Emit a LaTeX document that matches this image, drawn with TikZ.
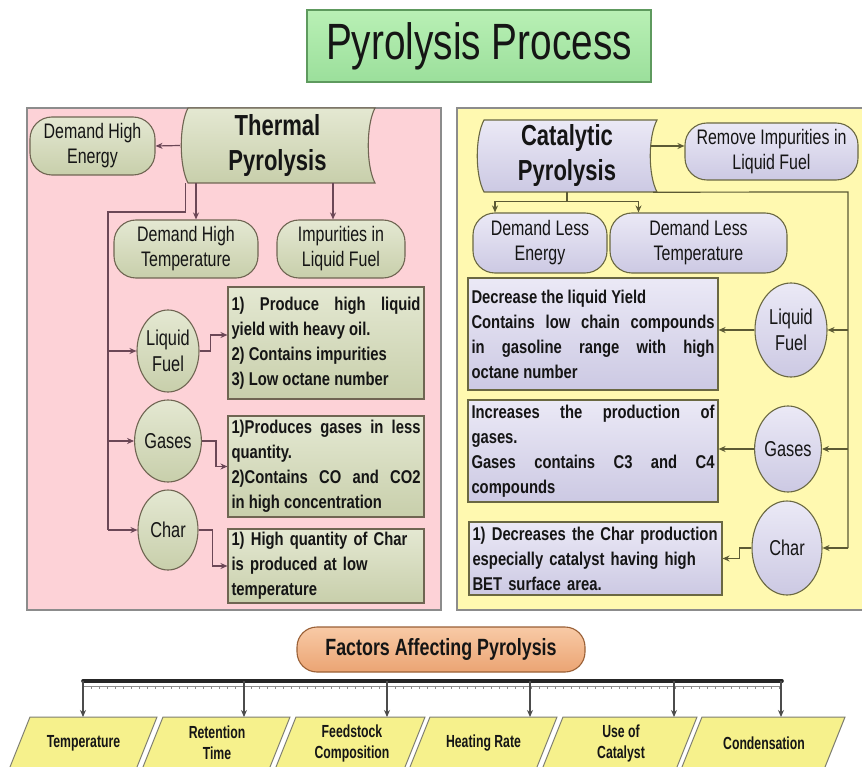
\documentclass[tikz,border=0pt]{standalone}
\usepackage{fontspec}
\usetikzlibrary{arrows.meta,calc,shapes.geometric}
\newfontfamily\nf[FakeStretch=0.76]{Liberation Sans}
\newfontfamily\nfb[FakeStretch=0.8]{Liberation Sans}
\newfontfamily\nfn[FakeStretch=0.7]{Liberation Sans}
\definecolor{gtop}{HTML}{E4E8D2}
\definecolor{gbot}{HTML}{C8CFAB}
\definecolor{gbord}{HTML}{6F6552}
\definecolor{ltop}{HTML}{EBE9F6}
\definecolor{lbot}{HTML}{CCC9E3}
\definecolor{lbord}{HTML}{6A6842}
\definecolor{lconn}{HTML}{6B4756}
\definecolor{rconn}{HTML}{5C5A34}
\definecolor{pinkbg}{HTML}{FDD2D7}
\definecolor{yelbg}{HTML}{FFF9B0}
\definecolor{panbord}{HTML}{8C8C8C}
\definecolor{txt}{HTML}{151515}
\definecolor{ttop}{HTML}{B9F0B5}
\definecolor{tbot}{HTML}{9BDF9B}
\definecolor{tbord}{HTML}{5E9A5E}
\definecolor{otop}{HTML}{F8CAA6}
\definecolor{obot}{HTML}{EBA473}
\definecolor{obord}{HTML}{9A6036}
\definecolor{pyel}{HTML}{F6F18C}
\definecolor{pbord}{HTML}{7E7E70}
\begin{document}
\hyphenpenalty=10000
\exhyphenpenalty=10000
\begin{tikzpicture}[x=1pt,y=-1pt,
  txtbase/.style={text=txt, align=center, inner sep=0},
  gfill/.style={draw=gbord, line width=1.1, top color=gtop, bottom color=gbot},
  lfill/.style={draw=lbord, line width=1.1, top color=ltop, bottom color=lbot},
  gpill/.style={gfill, txtbase, rounded corners=22, font=\nf\fontsize{21}{25}\selectfont},
  lpill/.style={lfill, txtbase, rounded corners=22, font=\nf\fontsize{21}{25}\selectfont},
  gell/.style={gfill, txtbase, ellipse, font=\nf\fontsize{21.5}{26}\selectfont},
  lell/.style={lfill, txtbase, ellipse, font=\nf\fontsize{21.5}{26}\selectfont},
  bodytxt/.style={text=txt, font=\nfb\bfseries\fontsize{18.5}{25}\selectfont, inner xsep=3.5, inner ysep=2},
  gbox/.style={gfill, bodytxt},
  lbox/.style={lfill, bodytxt},
  bigtxt/.style={txtbase, font=\nf\bfseries\fontsize{29}{35}\selectfont},
  lc/.style={draw=lconn, line width=1.2, -{Stealth[length=7,width=6]}},
  lcl/.style={draw=lconn, line width=1.2},
  rc/.style={draw=rconn, line width=1.2, -{Stealth[length=7,width=6]}},
  rcl/.style={draw=rconn, line width=1.2},
  bc/.style={draw=black!70, line width=1.1, -{Stealth[length=7,width=6]}},
  para/.style={draw=pbord, line width=1, fill=pyel},
  ptxt/.style={txtbase, font=\nfn\bfseries\fontsize{17.5}{21}\selectfont}
]
\clip (0,0) rectangle (862,767);
\fill[white] (0,0) rectangle (862,767);

% title
\node[draw=tbord, line width=1.1, top color=ttop, bottom color=tbot, txtbase,
      minimum width=344, minimum height=72, font=\nf\fontsize{51}{55}\selectfont] (T) at (479,46) {Pyrolysis Process};

% panels
\draw[draw=panbord, line width=1.4, fill=pinkbg] (27,108) rectangle (441,610);
\draw[draw=panbord, line width=1.4, fill=yelbg] (457,108) rectangle (875,610);

% ---------- left: thermal ----------
\draw[gfill] (188,108) -- (375,108) .. controls (366,125) and (366,166) .. (375,183)
  -- (188,183) .. controls (179,166) and (179,125) .. (188,108) -- cycle;
\node[bigtxt, minimum width=195, minimum height=75] (TP) at (277.5,145.5) {Thermal\\Pyrolysis};

\node[gpill, minimum width=125, minimum height=58] (DHE) at (92.5,146) {Demand High\\Energy};
\node[gpill, minimum width=144, minimum height=58] (DHT) at (186,249) {Demand High\\Temperature};
\node[gpill, minimum width=128, minimum height=58] (IMP) at (341,249) {Impurities in\\Liquid Fuel};

\node[gell, minimum width=62, minimum height=82] (LF) at (168,351) {Liquid\\Fuel};
\node[gell, minimum width=60, minimum height=82] (GA) at (168,441) {Gases};
\node[gell, minimum width=60, minimum height=80] (CH) at (168,530) {Char};

\node[gbox, text width=189, align=justify, minimum height=112] (B1) at (326,343)
  {1) Produce high liquid\linebreak yield with heavy oil.\\2) Contains impurities\\3) Low octane number};
\node[gbox, text width=189, align=justify, minimum height=101] (B2) at (326,466.5)
  {1)Produces gases in less\linebreak quantity.\\2)Contains CO and CO2\linebreak in high concentration};
\node[gbox, text width=189, align=left, minimum height=74] (B3) at (326,566)
  {1) High quantity of Char\\is produced at low\\temperature};

\draw[lc] (TP.west) -- (DHE.east);
\coordinate (t1) at ($(DHT.north)+(10,0)$);
\coordinate (t2) at ($(IMP.north)+(-8,0)$);
\draw[lc] (t1 |- TP.south) -- (t1);
\draw[lc] (t2 |- TP.south) -- (t2);
\coordinate (tk0) at ($(TP.south west)+(6,0)$);
\coordinate (tk) at (108,212);
\draw[lcl] (tk0) |- (tk) -- (tk |- CH.west);
\draw[lc] (tk |- LF.west) -- (LF.west);
\draw[lc] (tk |- GA.west) -- (GA.west);
\draw[lc] (tk |- CH.west) -- (CH.west);
\draw[lc] (LF.east) -- ++(11,0) |- ($(B1.west)+(0,-8)$);
\draw[lc] (GA.east) -- ++(14,0) |- (B2.west);
\draw[lc] (CH.east) -- ++(14,0) |- (B3.west);

% ---------- right: catalytic ----------
\draw[lfill] (484,120) -- (657,120) .. controls (648,137) and (648,175) .. (657,192)
  -- (484,192) .. controls (475,175) and (475,137) .. (484,120) -- cycle;
\node[bigtxt, minimum width=180, minimum height=72] (CP) at (567,156) {Catalytic\\Pyrolysis};

\node[lpill, minimum width=173, minimum height=57] (RI) at (771.5,151.5) {Remove Impurities in\\Liquid Fuel};
\node[lpill, minimum width=134, minimum height=60] (DLE) at (540,243) {Demand Less\\Energy};
\node[lpill, minimum width=177, minimum height=60] (DLT) at (698.5,243) {Demand Less\\Temperature};

\node[lell, minimum width=72, minimum height=94] (RLF) at (791,330) {Liquid\\Fuel};
\node[lell, minimum width=66, minimum height=86] (RGA) at (788,449) {Gases};
\node[lell, minimum width=70, minimum height=94] (RCH) at (787,548) {Char};

\node[lbox, text width=243, align=justify, minimum height=112] (BA) at (593,334)
  {Decrease the liquid Yield\\Contains low chain compounds\linebreak in gasoline range with high\linebreak octane number};
\node[lbox, text width=243, align=justify, minimum height=102] (BB) at (593,451)
  {Increases the production of\linebreak gases.\\Gases contains C3 and C4\linebreak compounds};
\node[lbox, text width=246, align=left, minimum height=73] (BC) at (595.5,558.5)
  {1) Decreases the Char production\\especially catalyst having high\\BET surface area.};

\coordinate (c1) at ($(CP.east)+(-6,-10)$);
\draw[rc] (c1) -- (c1 -| RI.west);
\coordinate (cpj) at ($(CP.south)+(0,9)$);
\coordinate (d1) at ($(DLE.north)+(-45,0)$);
\coordinate (d2) at ($(DLT.north)+(-60,0)$);
\draw[rcl] (CP.south) -- (cpj);
\draw[rc] (cpj) -| (d1);
\draw[rc] (cpj) -| (d2);
\coordinate (rt) at (848,192);
\draw[rcl] ($(CP.south east)+(-4,0)$) -- (rt) -- (rt |- RCH.east);
\draw[rc] (rt |- RLF.east) -- (RLF.east);
\draw[rc] (rt |- RGA.east) -- (RGA.east);
\draw[rc] (rt |- RCH.east) -- (RCH.east);
\draw[rc] (RLF.west) -- (RLF.west -| BA.east);
\draw[rc] (RGA.west) -- (RGA.west -| BB.east);
\draw[rc] (RCH.west) -- ++(-12,0) |- (BC.east);

% ---------- bottom: factors ----------
\node[draw=obord, line width=1.1, top color=otop, bottom color=obot, txtbase, rounded corners=20,
      minimum width=288, minimum height=45, font=\nf\bfseries\fontsize{23.5}{27}\selectfont] (FA) at (441,649.5) {Factors Affecting Pyrolysis};

\coordinate (bus1) at (83,681);
\coordinate (bus2) at (782,681);
\draw[black!85, line width=3.6, line cap=round] (bus1) -- (bus2);
\draw[black!45, line width=0.7] ($(bus1)+(0,5)$) -- ($(bus2)+(0,5)$);
\foreach \k in {0,...,87} {
  \draw[black!45, line width=0.6] ($(bus1)+(\k*8,5)$) -- ++(0,3);
}

\draw[para] (30,717) -- (157,717) -- (135,772) -- (8,772) -- cycle;
\draw[para] (163,717) -- (290,717) -- (268,772) -- (141,772) -- cycle;
\draw[para] (296,717) -- (425,717) -- (403,772) -- (274,772) -- cycle;
\draw[para] (430,717) -- (557,717) -- (535,772) -- (408,772) -- cycle;
\draw[para] (563,717) -- (697,717) -- (675,772) -- (541,772) -- cycle;
\draw[para] (702,717) -- (845,717) -- (823,772) -- (680,772) -- cycle;

\node[ptxt] (F1) at (83.5,743) {Temperature};
\node[ptxt] (F2) at (217,743) {Retention\\Time};
\node[ptxt] (F3) at (352,743) {Feedstock\\Composition};
\node[ptxt] (F4) at (483.5,743) {Heating Rate};
\node[ptxt] (F5) at (621,743) {Use of\\Catalyst};
\node[ptxt] (F6) at (764,743) {Condensation};

\coordinate (a1) at (83,717);
\coordinate (a2) at (244,717);
\coordinate (a3) at (387,717);
\coordinate (a4) at (530,717);
\coordinate (a5) at (674,717);
\coordinate (a6) at (781,717);
\foreach \a in {a1,a2,a3,a4,a5,a6} {
  \draw[bc] (\a |- bus1) -- (\a);
}
\end{tikzpicture}
\end{document}
